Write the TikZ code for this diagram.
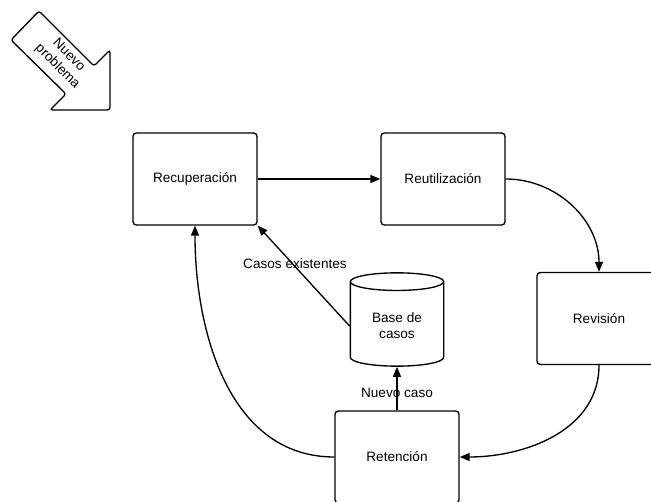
\documentclass[tikz,border=0pt]{standalone}
\usepackage{fontspec}
\setmainfont{Liberation Sans}
\usetikzlibrary{arrows.meta,shapes.geometric}

\begin{document}
\begin{tikzpicture}[x=0.75pt,y=-0.75pt,
		box/.style={draw,line width=1pt,rounded corners=2.5pt,minimum width=93pt,minimum height=69pt,font=\fontsize{10.2pt}{12pt}\selectfont},
		lbl/.style={font=\fontsize{10.2pt}{12pt}\selectfont}]
			% Rahmen festlegen
			\useasboundingbox (0,0) rectangle (651,502);
			\clip (0,0) rectangle (651,502);
			
			% Pfeil oben links
			\draw[line width=1pt,rounded corners=2pt] (11,40) -- (39,11) -- (94,66) -- (110,50)
				-- (110,110) -- (50,110) -- (66,94) -- cycle;
			\node[lbl,rotate=-45,align=center,inner sep=0pt] (np) at (63,61) {Nuevo\\problema};
			
			% Kaesten zeichnen
			\node[box] (rec) at (195,179) {Recuperación};
			\node[box] (reu) at (443,179) {Reutilización};
			\node[box] (rev) at (599,318.5) {Revisión};
			\node[box] (ret) at (397,457) {Retención};
			\node[draw,line width=1pt,cylinder,shape border rotate=90,aspect=0.3,anchor=shape center,
				minimum width=70pt,minimum height=70pt,align=center,lbl] (bd) at (397,319.5) {Base de\\casos};
			
			% Verbindungen zeichnen
			\begin{scope}[>={Triangle[length=7.5pt,width=6pt]},line width=1pt]
				\draw[->] (rec) to (reu);
				\draw[->] (reu.east) to[out=0,in=90] (rev.north);
				\draw[->] (rev.south) to[out=-90,in=0] (ret.east);
				\draw[->] (ret.west) to[out=180,in=-90] (rec.south);
				\draw[->] (bd.180) to (rec.south east);
				\draw[->] (ret.north) to (bd.south);
			\end{scope}
			
			% Beschriftungen eintragen
			\node[lbl] (ce) at (295,264) {Casos existentes};
			\node[lbl] (nc) at (397,393) {Nuevo caso};
	\end{tikzpicture}
\end{document}
